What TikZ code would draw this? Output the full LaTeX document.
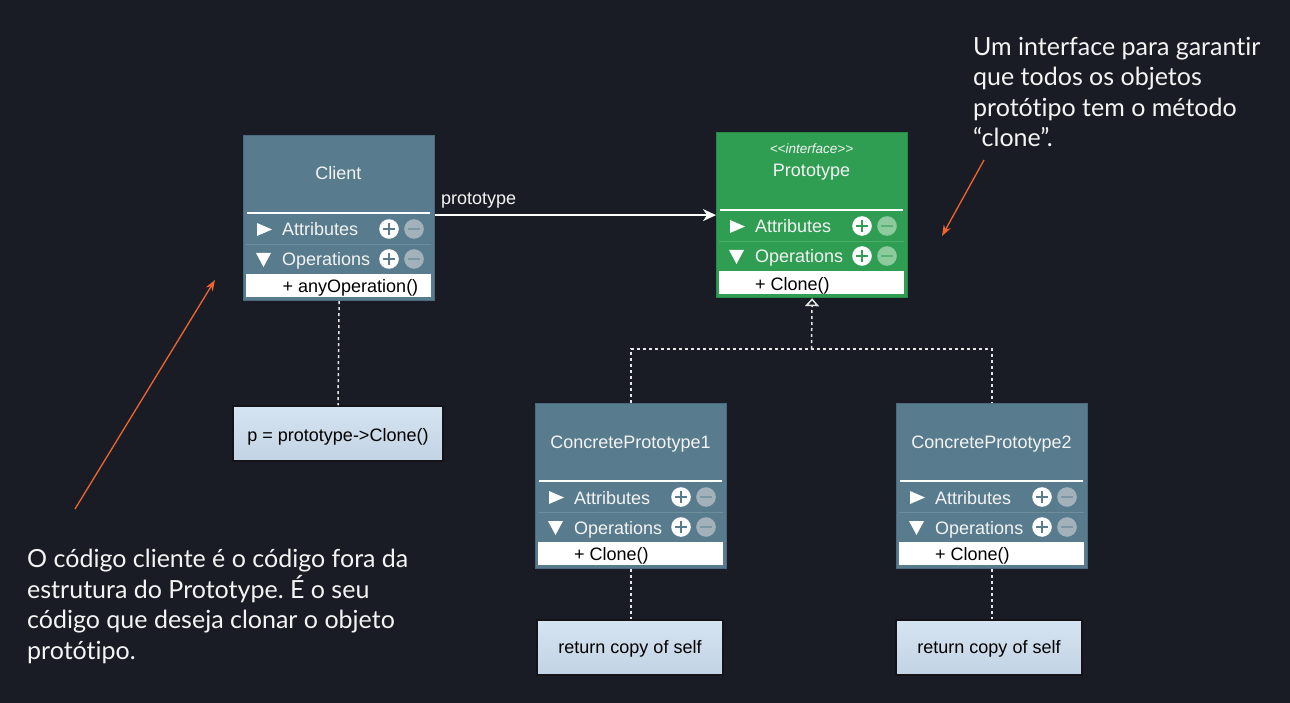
\documentclass[tikz,border=0pt]{standalone}
\usepackage{fontspec}
\setmainfont{Liberation Sans}
\newfontfamily\latofont[Ligatures={NoCommon}]{Lato}
\usetikzlibrary{arrows.meta}
\frenchspacing
\definecolor{bg}{HTML}{191C25}
\definecolor{slate}{HTML}{587B8D}
\definecolor{slateb}{HTML}{4B6B7C}
\definecolor{slatesep}{HTML}{6E8E9E}
\definecolor{slateminus}{HTML}{A3B2BA}
\definecolor{slateminusbar}{HTML}{7C97A4}
\definecolor{protog}{HTML}{2F9E52}
\definecolor{protob}{HTML}{288A47}
\definecolor{protosep}{HTML}{4BAE68}
\definecolor{protominus}{HTML}{8DCB9F}
\definecolor{protominusbar}{HTML}{5DB077}
\definecolor{orangeann}{HTML}{F0652F}
\definecolor{notetop}{HTML}{D5E4F1}
\definecolor{notebot}{HTML}{C2D3E4}
\definecolor{txt}{HTML}{F4F4F4}
\tikzset{
  umltxt/.style={font=\fontsize{18}{20}\selectfont, inner sep=0pt},
  dotline/.style={draw={rgb,255:red,230;green,230;blue,230}, line width=1.5pt, dash pattern=on 3pt off 3pt},
  notebox/.style={draw={rgb,255:red,20;green,20;blue,24}, line width=1.5pt, top color=notetop, bottom color=notebot,
     minimum width=#1, minimum height=55pt, inner sep=0pt, text=black, font=\fontsize{18}{20}\selectfont, text depth=3pt},
  annot/.style={text=txt, font=\latofont\fontsize{25}{30.5}\selectfont, align=left, inner sep=0pt, anchor=north west},
  orangearrow/.style={draw=orangeann, line width=1.3pt, -{Stealth[length=11pt,width=8pt]}}
}
% #1 name, #2 x0, #3 y0, #4 fill, #5 border, #6 row separator, #7 minus circle, #8 minus bar
\newcommand\umlclassbox[8]{%
  \node[draw=#5, fill=#4, line width=1.2pt, anchor=north west, minimum width=191pt, minimum height=165pt, inner sep=0pt] (#1) at (#2,#3) {};
  \draw[white, line width=2.5pt] ({#2+4},{#3+78}) -- ({#2+187},{#3+78});
  \draw[#6, line width=0.8pt] ({#2+3},{#3+109}) -- ({#2+188},{#3+109});
  \fill[white] ({#2+14},{#3+88}) -- ({#2+29},{#3+94.5}) -- ({#2+14},{#3+101}) -- cycle;
  \fill[white] ({#2+13},{#3+118}) -- ({#2+28},{#3+118}) -- ({#2+20.5},{#3+132}) -- cycle;
  \node[umltxt, text=txt, anchor=base west] (#1-attr) at ({#2+39},{#3+101}) {Attributes};
  \node[umltxt, text=txt, anchor=base west] (#1-ops) at ({#2+39},{#3+131}) {Operations};
  \foreach \yy in {94,124} {
    \fill[white] ({#2+146},{#3+\yy}) circle[radius=9.8pt];
    \draw[#4, line width=2.8pt] ({#2+140},{#3+\yy}) -- ({#2+152},{#3+\yy});
    \draw[#4, line width=2.8pt] ({#2+146},{#3+\yy-6}) -- ({#2+146},{#3+\yy+6});
    \fill[#7] ({#2+171},{#3+\yy}) circle[radius=9.8pt];
    \draw[#8, line width=2.8pt] ({#2+165},{#3+\yy}) -- ({#2+177},{#3+\yy});
  }
  \fill[white] ({#2+3},{#3+139}) rectangle ({#2+188},{#3+162});
}
\begin{document}
\begin{tikzpicture}[x=1pt,y=-1pt]
\useasboundingbox (0,0) rectangle (1290,703);
\fill[bg] (0,0) rectangle (1290,703);

% classes
\umlclassbox{client}{243}{135}{slate}{slateb}{slatesep}{slateminus}{slateminusbar}
\node[umltxt, text=txt, anchor=base] (client-title) at (338.5,180) {Client};
\node[umltxt, text=black, anchor=base west] (client-op) at (282.5,293) {+ anyOperation()};

\umlclassbox{proto}{716}{132}{protog}{protob}{protosep}{protominus}{protominusbar}
\node[text=txt, font=\itshape\fontsize{13.5}{15}\selectfont, inner sep=0pt, anchor=base] (proto-stereo) at (811.5,153.5) {{<}{<}interface{>}{>}};
\node[umltxt, text=txt, anchor=base] (proto-title) at (811.5,177) {Prototype};
\node[umltxt, text=black, anchor=base west] (proto-op) at (755,290.5) {+ Clone()};

\umlclassbox{cp1}{535}{403}{slate}{slateb}{slatesep}{slateminus}{slateminusbar}
\node[umltxt, text=txt, anchor=base] (cp1-title) at (630.5,448) {ConcretePrototype1};
\node[umltxt, text=black, anchor=base west] (cp1-op) at (574,560.5) {+ Clone()};

\umlclassbox{cp2}{896}{403}{slate}{slateb}{slatesep}{slateminus}{slateminusbar}
\node[umltxt, text=txt, anchor=base] (cp2-title) at (991.5,448) {ConcretePrototype2};
\node[umltxt, text=black, anchor=base west] (cp2-op) at (935,560.5) {+ Clone()};

% notes
\node[notebox=210pt, text height=19.6pt] (cnote) at (338,433.5) {p = prototype->Clone()};
\node[notebox=186pt, text height=15.6pt] (n1) at (630,647.5) {return copy of self};
\node[notebox=186pt, text height=15.6pt] (n2) at (989,647.5) {return copy of self};

% connectors
\draw[white, line width=1.3pt, -{Stealth[length=13pt,width=12pt,inset=4pt]}] (client.east |- proto.west) -- (proto.west);
\node[umltxt, text=txt, anchor=base west] (assoc-label) at (441,205) {prototype};

\draw[dotline] (client.south) -- (cnote.north);
\coordinate (junction) at (811.5,349);
\draw[dotline] (cp1.north) |- (junction) -| (cp2.north);
\draw[dotline, -{Triangle[length=8pt,width=14pt,fill=bg]}] (junction) -- (proto.south);
\draw[dotline] (cp1.south) -- (cp1.south |- n1.north);
\draw[dotline] (cp2.south) -- (cp2.south |- n2.north);

% annotations
\node[annot] (annot-top) at (973,37) {Um interface para garantir\\que todos os objetos\\protótipo tem o método\\“clone”.};
\node[annot] (annot-bottom) at (27,549) {O código cliente é o código fora da\\estrutura do Prototype. É o seu\\código que deseja clonar o objeto\\protótipo.};
\coordinate (o1s) at (75,509);
\coordinate (o1e) at (215,280);
\draw[orangearrow] (o1s) -- (o1e);
\coordinate (o2s) at (984,160);
\coordinate (o2e) at (942,236);
\draw[orangearrow] (o2s) -- (o2e);
\end{tikzpicture}
\end{document}
